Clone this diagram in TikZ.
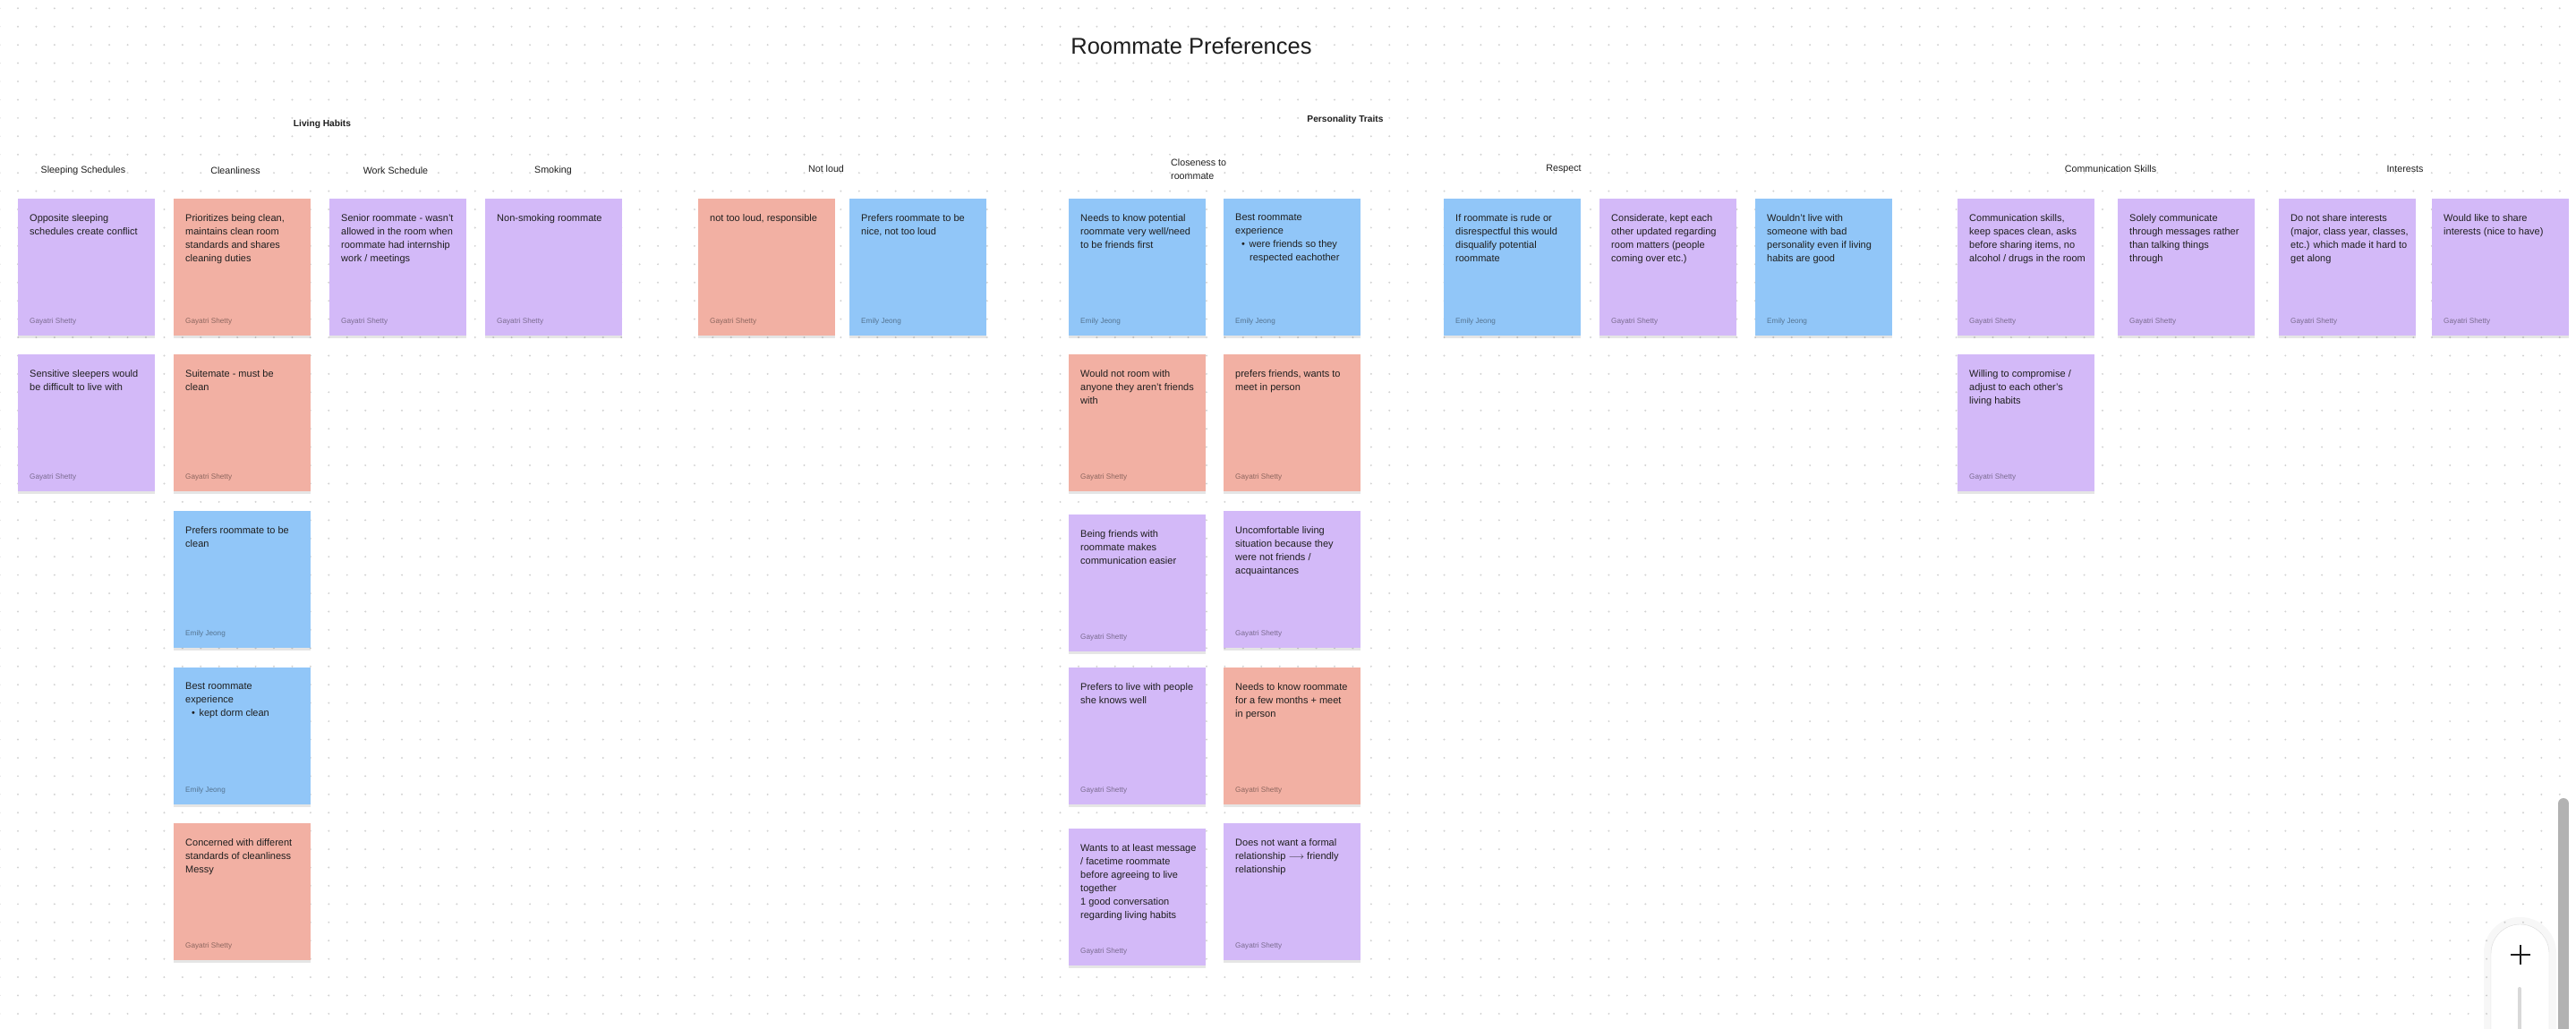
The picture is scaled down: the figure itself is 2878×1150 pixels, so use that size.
\documentclass[tikz,border=0pt]{standalone}
\usepackage{fontspec}
\setmainfont{Liberation Sans}
\usetikzlibrary{positioning,shadows}

\definecolor{notepurple}{HTML}{D3B9F8}
\definecolor{notesalmon}{HTML}{F2B0A3}
\definecolor{noteblue}{HTML}{91C6F8}
\definecolor{ink}{HTML}{1E1E1E}
\definecolor{dotgray}{HTML}{D2D2D2}

% one sticky: name, x, y, colour, text, author
\newcommand{\stickynote}[6]{%
  \node[note, fill=#4] (#1) at (#2,#3) {};
  \node[notetext, below right=17pt and 13pt of #1.north west] (#1-text) {#5};
  \node[author, above right=12pt and 13pt of #1.south west] (#1-by) {#6};
}
\newcommand{\bulletitem}{\hspace*{7pt}\textbullet\hspace{4.5pt}}

\begin{document}
\begin{tikzpicture}[x=1pt,y=-1pt,
  note/.style={anchor=north west, minimum width=153pt, minimum height=153pt,
    inner sep=0pt, outer sep=0pt,
    drop shadow={opacity=0.1, fill=black, shadow xshift=0pt, shadow yshift=-2.5pt}},
  notetext/.style={inner sep=0pt, align=left, text=ink,
    font=\fontsize{11}{15}\selectfont},
  author/.style={inner sep=0pt, text=black, text opacity=0.42,
    font=\fontsize{8.2}{10}\selectfont},
  header/.style={inner sep=0pt, text=ink, font=\fontsize{10.7}{15}\selectfont},
  group/.style={inner sep=0pt, text=ink, font=\fontsize{10.2}{12}\selectfont\bfseries},
  griddot/.style={draw=dotgray, line width=2.2pt, line cap=round,
    dash pattern=on 0pt off 20.43pt}]

\useasboundingbox (0,0) rectangle (2878,1150);
\fill[white] (0,0) rectangle (2878,1150);

% dot grid
\foreach \row in {0,...,55}
  \draw[griddot] (-0.43,{9.3+20.43*\row}) -- (2890,{9.3+20.43*\row});

% titles
\node[inner sep=0pt, text=ink, font=\fontsize{25.5}{30}\selectfont] (title) at (1331,51) {Roommate Preferences};
\node[group] (living) at (360,139) {Living Habits};
\node[group] (personality) at (1503,134) {Personality Traits};

\node[header] (h-sleep) at (93,191) {Sleeping Schedules};
\node[header] (h-clean) at (263,191) {Cleanliness};
\node[header] (h-work) at (442,191) {Work Schedule};
\node[header] (h-smoke) at (618,191) {Smoking};
\node[header] (h-loud) at (923,189) {Not loud};
\node[header, anchor=west, align=left] (h-close) at (1308,189) {Closeness to\\roommate};
\node[header] (h-respect) at (1747,189) {Respect};
\node[header] (h-comm) at (2358,189) {Communication Skills};
\node[header] (h-interest) at (2687,189) {Interests};

% living habits
\stickynote{sleep1}{20}{222}{notepurple}{Opposite sleeping\\schedules create conflict}{Gayatri Shetty}
\stickynote{sleep2}{20}{396}{notepurple}{Sensitive sleepers would\\be difficult to live with}{Gayatri Shetty}

\stickynote{clean1}{194}{222}{notesalmon}{Prioritizes being clean,\\maintains clean room\\standards and shares\\cleaning duties}{Gayatri Shetty}
\stickynote{clean2}{194}{396}{notesalmon}{Suitemate - must be\\clean}{Gayatri Shetty}
\stickynote{clean3}{194}{571}{noteblue}{Prefers roommate to be\\clean}{Emily Jeong}
\stickynote{clean4}{194}{746}{noteblue}{Best roommate\\experience\\\bulletitem kept dorm clean}{Emily Jeong}
\stickynote{clean5}{194}{920}{notesalmon}{Concerned with different\\standards of cleanliness\\Messy}{Gayatri Shetty}

\stickynote{work1}{368}{222}{notepurple}{Senior roommate - wasn’t\\allowed in the room when\\roommate had internship\\work / meetings}{Gayatri Shetty}
\stickynote{smoke1}{542}{222}{notepurple}{Non-smoking roommate}{Gayatri Shetty}

% personality traits
\stickynote{loud1}{780}{222}{notesalmon}{not too loud, responsible}{Gayatri Shetty}
\stickynote{loud2}{949}{222}{noteblue}{Prefers roommate to be\\nice, not too loud}{Emily Jeong}

\stickynote{close1}{1194}{222}{noteblue}{Needs to know potential\\roommate very well/need\\to be friends first}{Emily Jeong}
\stickynote{close2}{1194}{396}{notesalmon}{Would not room with\\anyone they aren’t friends\\with}{Gayatri Shetty}
\stickynote{close3}{1194}{575}{notepurple}{Being friends with\\roommate makes\\communication easier}{Gayatri Shetty}
\stickynote{close4}{1194}{746}{notepurple}{Prefers to live with people\\she knows well}{Gayatri Shetty}
\stickynote{close5}{1194}{926}{notepurple}{Wants to at least message\\/ facetime roommate\\before agreeing to live\\together\\1 good conversation\\regarding living habits}{Gayatri Shetty}

\stickynote{close6}{1367}{222}{noteblue}{Best roommate\\experience\\\bulletitem were friends so they\\\hspace*{16pt}respected eachother}{Emily Jeong}
\stickynote{close7}{1367}{396}{notesalmon}{prefers friends, wants to\\meet in person}{Gayatri Shetty}
\stickynote{close8}{1367}{571}{notepurple}{Uncomfortable living\\situation because they\\were not friends /\\acquaintances}{Gayatri Shetty}
\stickynote{close9}{1367}{746}{notesalmon}{Needs to know roommate\\for a few months + meet\\in person}{Gayatri Shetty}
\stickynote{close10}{1367}{920}{notepurple}{Does not want a formal\\relationship $\longrightarrow$ friendly\\relationship}{Gayatri Shetty}

\stickynote{respect1}{1613}{222}{noteblue}{If roommate is rude or\\disrespectful this would\\disqualify potential\\roommate}{Emily Jeong}
\stickynote{respect2}{1787}{222}{notepurple}{Considerate, kept each\\other updated regarding\\room matters (people\\coming over etc.)}{Gayatri Shetty}
\stickynote{respect3}{1961}{222}{noteblue}{Wouldn’t live with\\someone with bad\\personality even if living\\habits are good}{Emily Jeong}

\stickynote{comm1}{2187}{222}{notepurple}{Communication skills,\\keep spaces clean, asks\\before sharing items, no\\alcohol / drugs in the room}{Gayatri Shetty}
\stickynote{comm2}{2366}{222}{notepurple}{Solely communicate\\through messages rather\\than talking things\\through}{Gayatri Shetty}
\stickynote{comm3}{2187}{396}{notepurple}{Willing to compromise /\\adjust to each other’s\\living habits}{Gayatri Shetty}

\stickynote{interest1}{2546}{222}{notepurple}{Do not share interests\\(major, class year, classes,\\etc.) which made it hard to\\get along}{Gayatri Shetty}
\stickynote{interest2}{2717}{222}{notepurple}{Would like to share\\interests (nice to have)}{Gayatri Shetty}

% zoom control and scroll bar
\begin{scope}
\clip (0,0) rectangle (2878,1150);
\draw[line width=8pt, black, opacity=0.03, rounded corners=36pt] (2779,1029) rectangle (2852,1260);
\draw[gray!30, fill=white, rounded corners=32.5pt] (2783,1033) rectangle (2848,1260);
\draw[ink, line width=2.6pt] (2805,1067) -- (2827,1067);
\draw[ink, line width=2.6pt] (2816,1056) -- (2816,1078);
\draw[gray!30, line width=4pt, line cap=round] (2815,1105) -- (2815,1170);
\draw[gray!60, line width=12pt, line cap=round] (2864,898) -- (2864,1170);
\end{scope}
\end{tikzpicture}
\end{document}
